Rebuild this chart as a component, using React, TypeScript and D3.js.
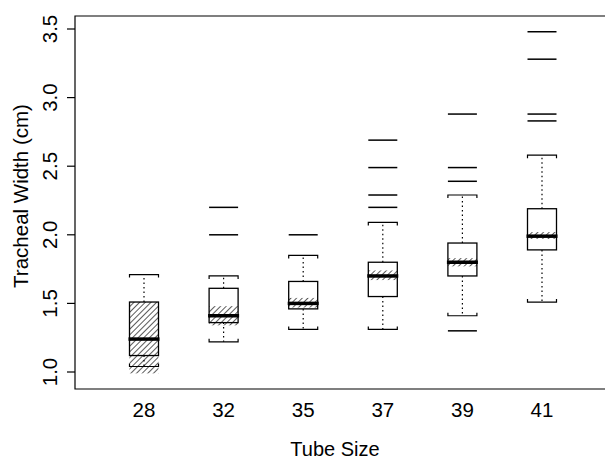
import React from "react"
import * as d3 from "d3"

// Tube sizes and the box statistics (cm)
const tubeSizes = ["28", "32", "35", "37", "39", "41"]
const whiskerLow = [1.04, 1.22, 1.31, 1.31, 1.41, 1.51]
const quartile1 = [1.12, 1.36, 1.46, 1.55, 1.7, 1.89]
const medians = [1.24, 1.41, 1.5, 1.7, 1.8, 1.99]
const quartile3 = [1.51, 1.61, 1.66, 1.8, 1.94, 2.19]
const whiskerHigh = [1.71, 1.7, 1.85, 2.09, 2.29, 2.58]
const notchLow = [0.99, 1.34, 1.47, 1.67, 1.77, 1.97]
const notchHigh = [1.51, 1.48, 1.54, 1.74, 1.83, 2.02]
const outliers = [
    [],
    [2.0, 2.2],
    [2.0],
    [2.2, 2.29, 2.49, 2.69],
    [1.3, 2.39, 2.49, 2.88],
    [2.83, 2.88, 3.28, 3.48],
]
const yTicks = [1.0, 1.5, 2.0, 2.5, 3.0, 3.5]

const W = 605
const H = 460
const frame = { left: 75, top: 16, bottom: 389, right: 606 }
const font = "'Liberation Sans', Arial, Helvetica, sans-serif"

export default function App() {
    const x = d3.scalePoint().domain(tubeSizes).range([144, 542])
    const y = d3.scaleLinear().domain([1.0, 3.5]).range([372, 29])
    const bw = 29
    const capTick = 3

    const boxes = tubeSizes.map((t, i) => ({
        t,
        lo: whiskerLow[i],
        q1: quartile1[i],
        med: medians[i],
        q3: quartile3[i],
        hi: whiskerHigh[i],
        nlo: notchLow[i],
        nhi: notchHigh[i],
        out: outliers[i],
    }))

    return (
        <div style={{ position: "fixed", left: 0, top: 0 }}>
            <svg width={W} height={H} style={{ display: "block", background: "#fff" }}>
                <defs>
                    <pattern
                        id="hatch"
                        patternUnits="userSpaceOnUse"
                        width={4}
                        height={4}
                        patternTransform="rotate(45)"
                    >
                        <line x1={0} y1={0} x2={0} y2={4} stroke="#000" strokeWidth={1.3} />
                    </pattern>
                </defs>

                {/* frame (right side is cut off in the original) */}
                <path
                    d={`M${frame.right},${frame.top}H${frame.left}V${frame.bottom}H${frame.right}`}
                    fill="none"
                    stroke="#000"
                    strokeWidth={1.2}
                />

                {/* y axis ticks and labels */}
                {yTicks.map((v) => (
                    <g key={v}>
                        <line x1={67} x2={frame.left} y1={y(v)} y2={y(v)} stroke="#000" strokeWidth={1.2} />
                        <text
                            transform={`translate(57,${y(v)}) rotate(-90)`}
                            textAnchor="middle"
                            fontFamily={font}
                            fontSize={20.5}
                            fill="#000"
                        >
                            {v.toFixed(1)}
                        </text>
                    </g>
                ))}
                <text
                    transform={`translate(28,196) rotate(-90)`}
                    textAnchor="middle"
                    fontFamily={font}
                    fontSize={20.5}
                    fill="#000"
                >
                    Tracheal Width (cm)
                </text>

                {/* x labels */}
                {tubeSizes.map((t) => (
                    <text
                        key={t}
                        x={x(t)}
                        y={416.5}
                        textAnchor="middle"
                        fontFamily={font}
                        fontSize={20.5}
                        fill="#000"
                    >
                        {t}
                    </text>
                ))}
                <text x={335} y={456} textAnchor="middle" fontFamily={font} fontSize={20} fill="#000">
                    Tube Size
                </text>

                {/* boxes */}
                {boxes.map((b) => {
                    const cx = x(b.t) as number
                    const l = cx - bw / 2
                    const r = cx + bw / 2
                    return (
                        <g key={b.t} stroke="#000" fill="none">
                            {/* whiskers */}
                            <line
                                x1={cx}
                                x2={cx}
                                y1={y(b.q3)}
                                y2={y(b.hi)}
                                strokeWidth={1.2}
                                strokeDasharray="1.5,3"
                            />
                            <line
                                x1={cx}
                                x2={cx}
                                y1={y(b.q1)}
                                y2={y(b.lo)}
                                strokeWidth={1.2}
                                strokeDasharray="1.5,3"
                            />
                            <path
                                d={`M${l},${y(b.hi) + capTick}V${y(b.hi)}H${r}V${y(b.hi) + capTick}`}
                                strokeWidth={1.2}
                            />
                            <path
                                d={`M${l},${y(b.lo) - capTick}V${y(b.lo)}H${r}V${y(b.lo) - capTick}`}
                                strokeWidth={1.2}
                            />
                            {/* notch hatching */}
                            <rect
                                x={l}
                                y={y(b.nhi)}
                                width={bw}
                                height={y(b.nlo) - y(b.nhi)}
                                fill="url(#hatch)"
                                stroke="none"
                            />
                            {/* box */}
                            <rect
                                x={l}
                                y={y(b.q3)}
                                width={bw}
                                height={y(b.q1) - y(b.q3)}
                                strokeWidth={1.3}
                            />
                            {/* median */}
                            <line x1={l - 1} x2={r + 1} y1={y(b.med)} y2={y(b.med)} strokeWidth={3.5} />
                            {/* outliers drawn as horizontal bars */}
                            {b.out.map((o, j) => (
                                <line key={j} x1={l} x2={r} y1={y(o)} y2={y(o)} strokeWidth={1.5} />
                            ))}
                        </g>
                    )
                })}
            </svg>
        </div>
    )
}
